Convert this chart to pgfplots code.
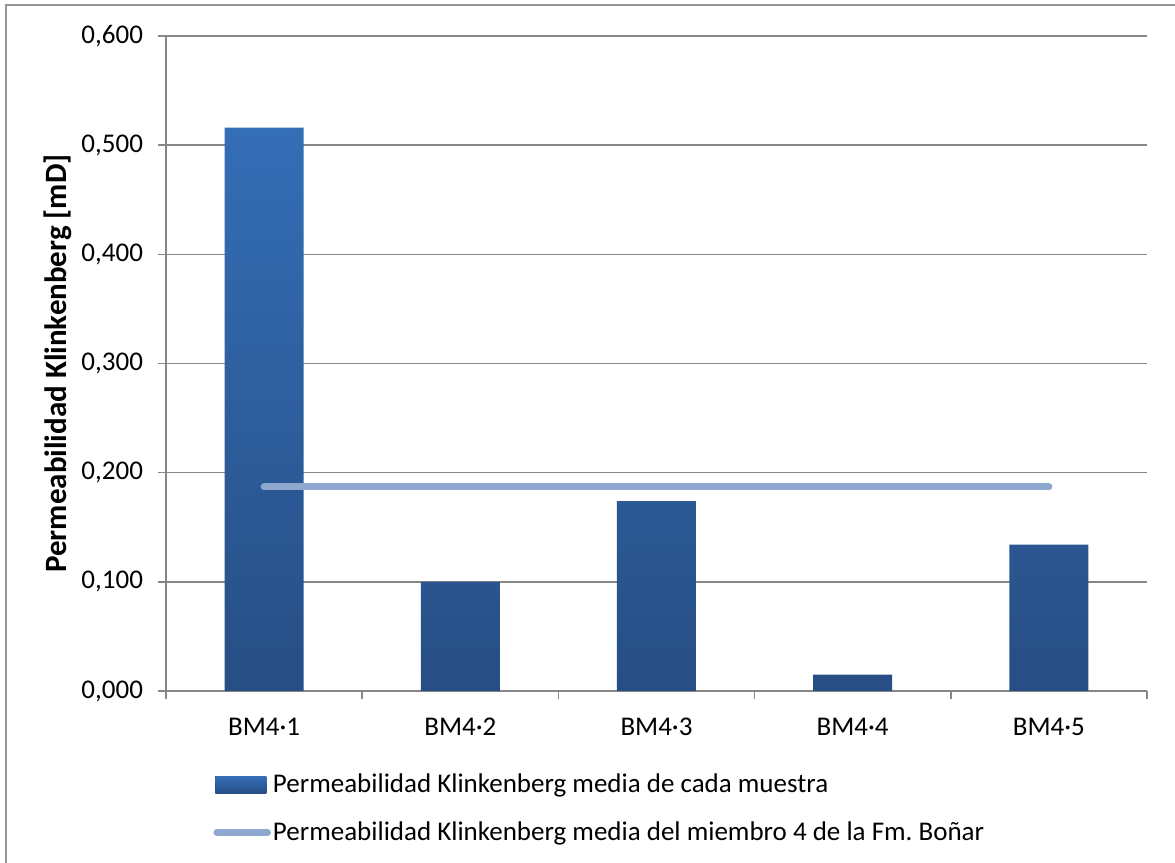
\documentclass[border=0pt]{standalone}
\usepackage{pgfplots}
\pgfplotsset{compat=1.18}
\usepackage{fontspec}
\setmainfont{Carlito}
\definecolor{bartop}{RGB}{52,110,182}
\definecolor{barbot}{RGB}{39,78,132}
\definecolor{meanline}{RGB}{142,167,207}
\definecolor{gridgray}{RGB}{134,134,134}
\definecolor{framegray}{RGB}{150,150,150}
\begin{document}
\begin{tikzpicture}
\useasboundingbox (-83pt,-86pt) rectangle (504.5pt,345.5pt);
\draw[framegray, line width=1pt] (-80pt,-100pt) rectangle (520pt,343pt);
\begin{axis}[
  at={(0pt,0pt)}, anchor=south west,
  scale only axis, width=490.5pt, height=327.5pt,
  xmin=-0.5, xmax=4.5, ymin=0, ymax=0.6,
  font=\fontsize{13.5}{16}\selectfont,
  /pgf/number format/assume math mode=true,
  axis x line*=bottom, axis y line*=left,
  axis line style={draw=gridgray, line width=0.8pt, -},
  tick align=outside,
  major tick length=4pt,
  minor tick length=4pt,
  ytick={0,0.1,0.2,0.3,0.4,0.5,0.6},
  ytick style={draw=gridgray, line width=0.8pt},
  yticklabel style={xshift=-4pt, /pgf/number format/.cd, fixed, fixed zerofill, precision=3, use comma},
  ymajorgrids, grid style={draw=gridgray, line width=0.8pt},
  xtick={0,1,2,3,4},
  xticklabels={BM4·1,BM4·2,BM4·3,BM4·4,BM4·5},
  xtick style={draw=none},
  minor xtick={-0.5,0.5,1.5,2.5,3.5,4.5},
  minor x tick style={draw=gridgray, line width=0.8pt},
  xticklabel style={yshift=-6pt},
  ylabel={\fontsize{15.5}{18}\selectfont\textbf{Permeabilidad Klinkenberg [mD]}},
  ylabel style={at={(axis description cs:-0.110,0.5)}, anchor=center},
  legend style={at={(axis description cs:0.048,-0.123)}, anchor=north west, draw=none, fill=none,
    row sep=11pt, inner sep=0pt, font=\fontsize{13.5}{16}\selectfont,
    nodes={inner sep=1pt}},
  legend cell align=left,
]
\addplot[ybar, bar width=39.5pt, draw=none, top color=bartop, bottom color=barbot,
  legend image code/.code={\fill[top color=bartop, bottom color=barbot] (1pt,-4.25pt) rectangle (26.5pt,4.25pt);}]
  coordinates {(0,0.516) (1,0.100) (2,0.174) (3,0.015) (4,0.134)};
\addlegendentry{Permeabilidad Klinkenberg media de cada muestra}
\addplot[meanline, line width=3.5pt, line cap=round, mark=none,
  legend image code/.code={\draw[meanline, line width=3.5pt, line cap=round] (1.75pt,0pt) -- (27pt,0pt);}]
  coordinates {(0,0.187) (4,0.187)};
\addlegendentry{Permeabilidad Klinkenberg media del miembro 4 de la Fm.\ Boñar}
\end{axis}
\end{tikzpicture}
\end{document}
